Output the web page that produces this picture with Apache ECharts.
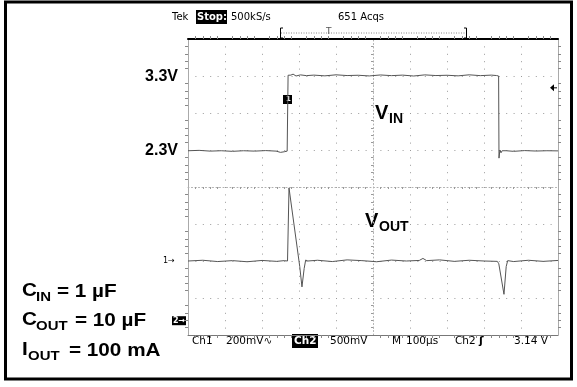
<!DOCTYPE html>
<html>
<head>
<meta charset="utf-8">
<script src="https://cdn.jsdelivr.net/npm/echarts@6/dist/echarts.min.js"></script>
<style>
  html, body { margin: 0; padding: 0; background: #fff; }
  #c { width: 577px; height: 387px; }
</style>
</head>
<body>
<div id="c"></div>
<script>
// Time base: microseconds relative to the screen centre (100 µs/div, 10 div)
const timeMin = -500, timeMax = 500, timeStep = 100;

// Ch2 – input voltage (V), 500 mV/div
const vinTime  = [-500, -470, -440, -410, -380, -350, -320, -290, -262, -250, -240, -232, -230, -229.5,
                  -226, -222, -216, -208, -196, -180, -160, -130, -100, -70, -40, -10, 20, 50, 80, 110,
                  140, 170, 200, 230, 260, 290, 320, 334, 339.5, 340.5, 343, 346, 349, 352, 360, 380,
                  410, 440, 470, 500];
const vinVolts = [2.29, 2.295, 2.285, 2.29, 2.282, 2.29, 2.285, 2.292, 2.285, 2.268, 2.276, 2.285, 2.29, 3.31,
                  3.335, 3.312, 3.325, 3.30, 3.315, 3.305, 3.312, 3.302, 3.316, 3.306, 3.31, 3.301, 3.314, 3.305, 3.312, 3.30,
                  3.315, 3.306, 3.31, 3.302, 3.316, 3.305, 3.312, 3.306, 3.30, 2.19, 2.30, 2.262, 2.29, 2.284, 2.29, 2.282,
                  2.292, 2.286, 2.29, 2.288];

// Ch1 – output voltage deviation (mV), 200 mV/div
const voutTime = [-500, -460, -420, -380, -340, -300, -260, -240, -231, -227, -198, -192, -186, -182, -176,
                  -150, -110, -70, -30, 10, 50, 90, 125, 135, 145, 180, 220, 260, 300, 336, 340,
                  354, 360, 364, 380, 420, 460, 500];
const voutMilliVolts = [0, 4, -3, 2, -4, 3, -2, 2, 0, 395, -30, -140, -40, 5, 0,
                  4, -3, 6, 2, -4, 5, 0, 3, 14, 2, 6, -2, 4, 0, -2, -15,
                  -180, -30, 2, -3, 4, -2, 3];

// Graticule: 10 x 8 divisions
const divMin = -4, divMax = 4;
// Channel scales (full screen span)
const ch2Range = [-0.2, 3.8];
const ch1Range = [-400, 1200];

// Level annotations on the left
const levelLabels = [{ text: '3.3V', volts: 3.3 }, { text: '2.3V', volts: 2.3 }];
// Trigger level (Ch2)
const triggerVolts = 3.14;

const chart = echarts.init(document.getElementById('c'), null, { renderer: 'canvas' });

const G = { left: 188, top: 39, width: 370, height: 296 };
const dotGrey = '#9a9a9a';
const traceGrey = '#555';
const scopeFont = 'DejaVu Sans';
const boldFont = 'Liberation Sans';

function zip(a, b) { return a.map((v, i) => [v, b[i]]); }

const edgeAxisLine = (color, width) => ({ show: true, onZero: false, lineStyle: { color, width } });
const edgeMinor = { show: true, splitNumber: 5, length: 3, lineStyle: { color: '#888', width: 1 } };

const option = {
  animation: false,
  backgroundColor: '#fff',
  grid: { left: G.left, top: G.top, width: G.width, height: G.height, containLabel: false },
  xAxis: [
    { // centre horizontal line + vertical graticule
      type: 'value', min: timeMin, max: timeMax, interval: timeStep,
      axisLine: { show: true, onZero: true, lineStyle: { color: '#b0b0b0', width: 1, type: [1, 2.5] } },
      axisTick: { show: false }, axisLabel: { show: false },
      minorTick: { show: true, splitNumber: 5, length: 2, lineStyle: { color: '#999' } },
      splitLine: { show: true, lineStyle: { color: dotGrey, width: 1, type: [1, 6.4] } }
    },
    { // top edge
      type: 'value', position: 'top', min: timeMin, max: timeMax, interval: timeStep,
      axisLine: edgeAxisLine('#000', 2), axisTick: { show: false }, axisLabel: { show: false },
      minorTick: Object.assign({}, edgeMinor, { inside: true }), splitLine: { show: false }
    },
    { // bottom edge
      type: 'value', position: 'bottom', min: timeMin, max: timeMax, interval: timeStep,
      axisLine: edgeAxisLine('#777', 1), axisTick: { show: false }, axisLabel: { show: false },
      minorTick: Object.assign({}, edgeMinor, { inside: true }), splitLine: { show: false }
    }
  ],
  yAxis: [
    { // centre vertical line + horizontal graticule
      type: 'value', min: divMin, max: divMax, interval: 1,
      axisLine: { show: true, onZero: true, lineStyle: { color: '#b0b0b0', width: 1, type: [1, 2.5] } },
      axisTick: { show: false }, axisLabel: { show: false },
      minorTick: { show: true, splitNumber: 5, length: 2, lineStyle: { color: '#999' } },
      splitLine: { show: true, lineStyle: { color: dotGrey, width: 1, type: [1, 6.4] } }
    },
    { // left edge
      type: 'value', position: 'left', min: divMin, max: divMax, interval: 1,
      axisLine: edgeAxisLine('#aaa', 1), axisTick: { show: false }, axisLabel: { show: false },
      minorTick: Object.assign({}, edgeMinor, { inside: true }), splitLine: { show: false }
    },
    { // right edge
      type: 'value', position: 'right', min: divMin, max: divMax, interval: 1,
      axisLine: edgeAxisLine('#aaa', 1), axisTick: { show: false }, axisLabel: { show: false },
      minorTick: Object.assign({}, edgeMinor, { inside: true }), splitLine: { show: false }
    },
    { type: 'value', show: false, min: ch2Range[0], max: ch2Range[1] },
    { type: 'value', show: false, min: ch1Range[0], max: ch1Range[1] }
  ],
  series: [
    {
      name: 'VIN', type: 'line', xAxisIndex: 0, yAxisIndex: 3,
      data: zip(vinTime, vinVolts), showSymbol: false, symbol: 'none',
      lineStyle: { color: traceGrey, width: 1 }, z: 5
    },
    {
      name: 'VOUT', type: 'line', xAxisIndex: 0, yAxisIndex: 4,
      data: zip(voutTime, voutMilliVolts), showSymbol: false, symbol: 'none',
      lineStyle: { color: traceGrey, width: 1 }, z: 5
    }
  ]
};
chart.setOption(option);

// Pixel helpers through the chart's own scales
const px = (t, v, yIdx) => chart.convertToPixel({ xAxisIndex: 0, yAxisIndex: yIdx }, [t, v]);

const g = [];
function txt(x, y, text, font, opts) {
  g.push(Object.assign({
    type: 'text', x, y,
    style: Object.assign({ text, font, fill: '#000', textVerticalAlign: 'middle' }, (opts && opts.style) || {})
  }, opts && opts.el));
}
function box(x, y, w, h) {
  g.push({ type: 'rect', shape: { x, y, width: w, height: h }, style: { fill: '#000' } });
}

// outer frame
g.push({ type: 'rect', shape: { x: 5.5, y: 2, width: 566, height: 377 },
  style: { fill: 'none', stroke: '#000', lineWidth: 3 }, z: 10 });

// header
const hf = '10px ' + scopeFont;
txt(172, 17, 'Tek', hf);
box(196, 10, 31, 14);
txt(197, 17, 'Stop:', 'bold 10px ' + scopeFont, { style: { fill: '#fff' } });
txt(231, 17, '500kS/s', hf);
txt(338, 17, '651 Acqs', hf);
// record-length bracket
g.push({ type: 'line', shape: { x1: 281, y1: 33, x2: 466, y2: 33 }, style: { stroke: '#888', lineDash: [1, 1.5] } });
g.push({ type: 'polyline', shape: { points: [[283, 28], [280.5, 28], [280.5, 38], [283, 38]] }, style: { stroke: '#000', fill: 'none' } });
g.push({ type: 'polyline', shape: { points: [[464, 28], [466.5, 28], [466.5, 38], [464, 38]] }, style: { stroke: '#000', fill: 'none' } });
txt(326, 32, 'T', '9px ' + scopeFont, { style: { fill: '#555' } });

// footer
const ff = '10.5px ' + scopeFont;
txt(192, 341, 'Ch1', ff);
txt(226, 341, '200mV\u223F', ff);
box(292, 334, 26, 14);
txt(294, 341, 'Ch2', 'bold 10.5px ' + scopeFont, { style: { fill: '#fff' } });
txt(330, 341, '500mV', ff);
txt(392, 341, 'M', ff);
txt(406, 341, '100\u00B5s', ff);
txt(455, 341, 'Ch2', ff);
txt(479, 341, '\u0283', 'bold 11px ' + scopeFont);
txt(514, 341, '3.14 V', ff);

// level labels
levelLabels.forEach(l => {
  const p = px(timeMin, l.volts, 3);
  txt(178, p[1] + 1, l.text, 'bold 16px ' + boldFont, { style: { textAlign: 'right' } });
});

// text with a subscript, optionally stretched horizontally
function sub(x, y, main, s, mainSize, subSize, gap, sx) {
  const el = sx ? { scaleX: sx, originX: 0 } : undefined;
  txt(x, y, main, 'bold ' + mainSize + 'px ' + boldFont, { el });
  txt(x + gap, y + 6, s, 'bold ' + subSize + 'px ' + boldFont, { el });
}
sub(375, 113, 'V', 'IN', 20, 14, 14);
sub(365, 221, 'V', 'OUT', 20, 14, 14);

// component notes
const noteScale = 1.15;
function note(x, y, text) {
  txt(x, y, text, 'bold 18px ' + boldFont, { el: { scaleX: noteScale, originX: 0 } });
}
sub(22, 291, 'C', 'IN', 18, 13, 14, noteScale);
note(57, 292, '= 1 \u00B5F');
sub(22, 320, 'C', 'OUT', 18, 13, 14, noteScale);
note(75, 321, '= 10 \u00B5F');
sub(22, 350, 'I', 'OUT', 18, 13, 6, noteScale);
note(69, 351, '= 100 mA');

// channel ground markers
const ch1Zero = px(timeMin, 0, 4);
txt(163, ch1Zero[1], '1\u2192', '8px ' + scopeFont);
const ch2Zero = px(timeMin, 0, 3);
box(172, ch2Zero[1] - 4, 14, 9);
txt(173, ch2Zero[1] + 0.5, '2\u2192', 'bold 8px ' + scopeFont, { style: { fill: '#fff' } });

// trigger position marker on the Ch2 edge
box(283, 95, 9, 9);
txt(286, 99.5, '1', 'bold 7px ' + scopeFont, { style: { fill: '#fff' } });
// trigger level arrow on the right edge
const trg = px(timeMax, triggerVolts, 3);
g.push({ type: 'polygon', shape: { points: [[trg[0] - 8, trg[1]], [trg[0] - 4, trg[1] - 3.5], [trg[0] - 4, trg[1] + 3.5]] },
  style: { fill: '#000' } });
g.push({ type: 'line', shape: { x1: trg[0] - 4, y1: trg[1], x2: trg[0] - 1, y2: trg[1] }, style: { stroke: '#000' } });

chart.setOption({ graphic: g });
</script>
</body>
</html>
